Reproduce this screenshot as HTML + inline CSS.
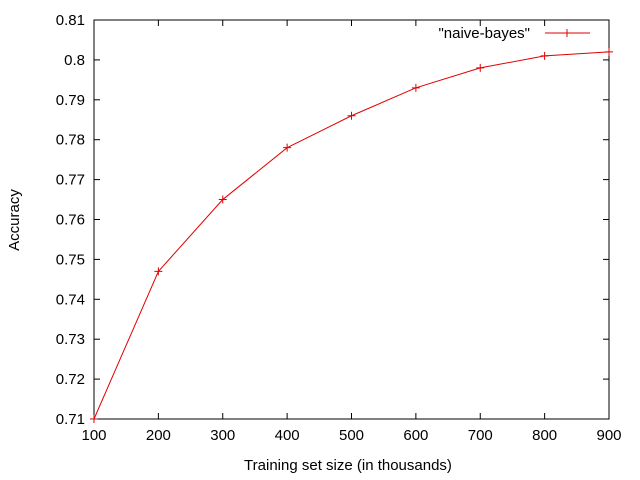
<!DOCTYPE html>
<html><head><meta charset="utf-8"><style>body{margin:0;background:#fff}svg{display:block}text{font-family:"Liberation Sans",sans-serif;font-size:15px;fill:#000}</style></head>
<body>
<svg width="640" height="480">
<g id="axes"></g><g id="plot"></g>
</svg>
<script>
const xs=[100,200,300,400,500,600,700,800,900];
const ys=[0.71,0.747,0.765,0.778,0.786,0.793,0.798,0.801,0.802];
const xTicks=[100,200,300,400,500,600,700,800,900];
const yTicks=[0.71,0.72,0.73,0.74,0.75,0.76,0.77,0.78,0.79,0.8,0.81];
const L=94,R=609,T=20,B=419;
const sx=v=>L+(v-100)/800*(R-L);
const sy=v=>B-(v-0.71)/0.1*(B-T);
const NS='http://www.w3.org/2000/svg';
const ax=document.getElementById('axes'),pl=document.getElementById('plot');
function mk(p,t,a){const e=document.createElementNS(NS,t);for(const k in a)e.setAttribute(k,a[k]);p.appendChild(e);return e;}
const box=mk(ax,'rect',{x:L,y:T,width:R-L,height:B-T,fill:'none',stroke:'#000','stroke-width':1});


xTicks.forEach(v=>{const x=sx(v);
mk(ax,'line',{x1:x,x2:x,y1:B,y2:B-6,stroke:'#000'});mk(ax,'line',{x1:x,x2:x,y1:T,y2:T+6,stroke:'#000'});
const t=mk(ax,'text',{x:x,y:B+21,'text-anchor':'middle'});t.textContent=v;

});
yTicks.forEach(v=>{const y=sy(v);
mk(ax,'line',{x1:L,x2:L+6,y1:y,y2:y,stroke:'#000'});mk(ax,'line',{x1:R,x2:R-6,y1:y,y2:y,stroke:'#000'});
const t=mk(ax,'text',{x:L-9,y:y+5,'text-anchor':'end'});t.textContent=String(v);

});
const xt=mk(ax,'text',{x:348,y:470,'text-anchor':'middle','font-size':'16.5'});xt.textContent='Training set size (in thousands)';


const yt=mk(ax,'text',{x:19,y:220,'text-anchor':'middle','font-size':'16',transform:'rotate(-90 19 220)'});yt.textContent='Accuracy';


const line=mk(pl,'polyline',{points:xs.map((v,i)=>sx(v)+','+sy(ys[i])).join(' '),fill:'none',stroke:'#e00000','stroke-width':1});


xs.forEach((v,i)=>{const x=sx(v),y=sy(ys[i]);
const p=mk(pl,'path',{d:`M${x-4},${y}H${x+4}M${x},${y-4}V${y+4}`,stroke:'#e00000'});

});
const lt=mk(pl,'text',{x:530,y:38,'text-anchor':'end','font-size':'16.5'});lt.textContent='"naive-bayes"';


const ll=mk(pl,'path',{d:'M545,33H590M567,29V37',stroke:'#e00000'});


</script>
</body></html>
